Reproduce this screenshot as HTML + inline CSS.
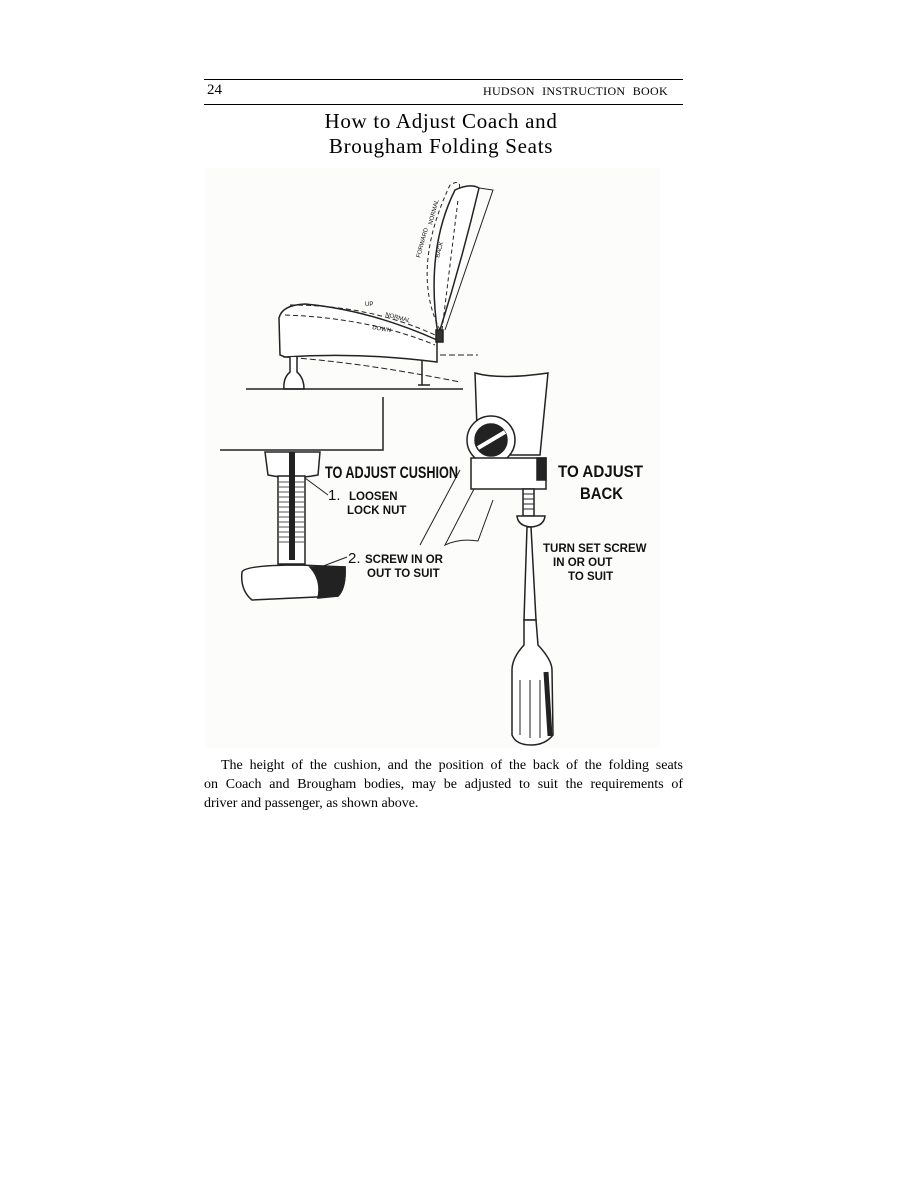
<!DOCTYPE html>
<html><head><meta charset="utf-8"><style>
html,body{margin:0;padding:0;background:#fff;}
body{width:910px;height:1177px;position:relative;overflow:hidden;font-family:"Liberation Serif",serif;}
.t{position:absolute;white-space:nowrap;color:#000;}
.j{text-align:justify;text-align-last:justify;}
</style></head><body>
<div style="position:absolute;left:204px;top:79px;width:479px;height:1px;background:#000"></div>
<div style="position:absolute;left:204px;top:104px;width:479px;height:1px;background:#000"></div>
<div class="t" style="left:207px;top:82px;font-size:15px">24</div>
<div class="t" style="left:483px;top:84px;font-size:12px;word-spacing:4px;letter-spacing:0.3px">HUDSON INSTRUCTION BOOK</div>
<div class="t" style="left:0;width:882px;text-align:center;top:109px;font-size:21px;letter-spacing:0.7px">How to Adjust Coach and</div>
<div class="t" style="left:0;width:882px;text-align:center;top:134px;font-size:21px;letter-spacing:0.7px">Brougham Folding Seats</div>

<svg style="position:absolute;left:0;top:0" width="910" height="1177" viewBox="0 0 910 1177">
<rect x="205" y="168" width="455" height="580" fill="#fcfcfb"/>
<g fill="none" stroke="#222" stroke-width="1.5">
<path d="M280 355 L279 318 Q282 305 305 304 Q370 310 437 340 L437 362 Q360 352 285 357 Z" fill="#fff"/>
<path d="M290 305 Q370 305 435 335" stroke-dasharray="5,3" stroke-width="1"/>
<path d="M285 315 Q370 318 435 345" stroke-dasharray="5,3" stroke-width="1"/>
<path d="M283 357 Q360 362 460 382" stroke-dasharray="6,3" stroke-width="1"/>
<path d="M440 355 L478 355" stroke-dasharray="6,3" stroke-width="1"/>
<path d="M438 335 Q425 250 455 190 Q470 183 479 188 Q462 260 440 330" fill="#fff"/>
<path d="M440 330 Q410 270 450 185 Q462 178 459 190" stroke-dasharray="4,3" stroke-width="1"/>
<path d="M442 330 L458 200" stroke-dasharray="4,3" stroke-width="1"/>
<path d="M479 188 L493 190 L445 330" stroke-width="1"/>
<rect x="436" y="330" width="7" height="12" fill="#333"/>
<path d="M290 357 L290 372 Q283 378 284 389 L304 389 Q304 378 297 372 L297 357" fill="#fff"/>
<path d="M422 360 L422 385 M418 385 L430 385"/>
<line x1="246" y1="389" x2="463" y2="389"/>
<path d="M220 450 L383 450 L383 397"/>
<path d="M265 452 L320 452 L318 475 Q292 480 268 475 Z" fill="#fff"/>
<rect x="278" y="476" width="27" height="88" fill="#fff"/>
<g stroke-width="1" stroke="#555">
<path d="M278 482h27M278 487h27M278 492h27M278 497h27M278 502h27M278 507h27M278 512h27M278 517h27M278 522h27M278 527h27M278 532h27M278 537h27M278 542h27"/>
</g>
<path d="M292 452 L292 560" stroke="#222" stroke-width="6"/>
<path d="M242 572 Q245 565 300 565 L345 567 Q346 588 338 596 L252 600 Q240 590 242 572 Z" fill="#fff"/>
<path d="M310 567 Q322 580 318 598 L338 596 Q346 588 345 567 Z" fill="#222"/>
<path d="M305 478 L328 495" stroke-width="1"/>
<path d="M318 568 L347 557" stroke-width="1"/>
<path d="M475 373 Q500 380 548 373 L540 455 L478 455 Z" fill="#fff"/>
<circle cx="491" cy="440" r="24" fill="#fff"/>
<circle cx="491" cy="440" r="16" fill="#222"/>
<path d="M478 448 L505 432" stroke="#fff" stroke-width="4"/>
<rect x="471" y="458" width="75" height="31" fill="#fff"/>
<rect x="537" y="458" width="9" height="22" fill="#222"/>
<path d="M474 489 L445 545 Q460 538 478 541 L493 500" stroke-width="1"/>
<path d="M460 470 L420 545" stroke-width="1"/>
<rect x="523" y="489" width="11" height="27" fill="#fff"/>
<path d="M523 494h11M523 499h11M523 504h11M523 509h11" stroke-width="1"/>
<path d="M517 516 L545 516 Q544 526 531 527 Q518 526 517 516 Z" fill="#fff"/>
<path d="M527 527 L531 527 L536 620 L524 620 Z" fill="#fff"/>
<path d="M524 620 L536 620 L538 645 Q552 660 552 670 L553 735 Q545 745 531 745 Q516 745 512 735 L512 670 Q512 658 524 645 Z" fill="#fff"/>
<path d="M520 680 L520 735 M530 680 L530 738 M540 680 L540 738" stroke-width="1"/>
<path d="M546 672 L550 736" stroke="#222" stroke-width="5"/>
</g>
<g font-family="Liberation Sans, sans-serif" fill="#111" font-weight="bold">
<text x="325" y="478" font-size="17" textLength="133" lengthAdjust="spacingAndGlyphs">TO ADJUST CUSHION</text>
<text x="328" y="500" font-size="15" font-weight="normal">1.</text>
<text x="349" y="500" font-size="11.5">LOOSEN</text>
<text x="347" y="514" font-size="11.5">LOCK NUT</text>
<text x="348" y="563" font-size="15" font-weight="normal">2.</text>
<text x="365" y="563" font-size="11.5">SCREW IN OR</text>
<text x="367" y="577" font-size="11.5">OUT TO SUIT</text>
<text x="558" y="477" font-size="17" textLength="85" lengthAdjust="spacingAndGlyphs">TO ADJUST</text>
<text x="580" y="499" font-size="17" textLength="43" lengthAdjust="spacingAndGlyphs">BACK</text>
<text x="543" y="552" font-size="11.5">TURN SET SCREW</text>
<text x="553" y="566" font-size="11.5">IN OR OUT</text>
<text x="568" y="580" font-size="11.5">TO SUIT</text>
<text x="365" y="306" font-size="6" font-weight="normal">UP</text>
<text x="385" y="316" font-size="6" font-weight="normal" transform="rotate(15 385 316)">NORMAL</text>
<text x="372" y="329" font-size="6" font-weight="normal" transform="rotate(10 372 329)">DOWN</text>
<text x="420" y="258" font-size="6" font-weight="normal" transform="rotate(-75 420 258)">FORWARD</text>
<text x="432" y="225" font-size="6" font-weight="normal" transform="rotate(-75 432 225)">NORMAL</text>
<text x="439" y="258" font-size="6" font-weight="normal" transform="rotate(-75 439 258)">BACK</text>
</g>
</svg>

<div class="t j" style="left:221px;width:462px;top:758px;font-size:14px">The height of the cushion, and the position of the back of the folding seats</div>
<div class="t j" style="left:204px;width:479px;top:777px;font-size:14px">on Coach and Brougham bodies, may be adjusted to suit the requirements of</div>
<div class="t" style="left:204px;top:796px;font-size:14px">driver and passenger, as shown above.</div>
</body></html>
